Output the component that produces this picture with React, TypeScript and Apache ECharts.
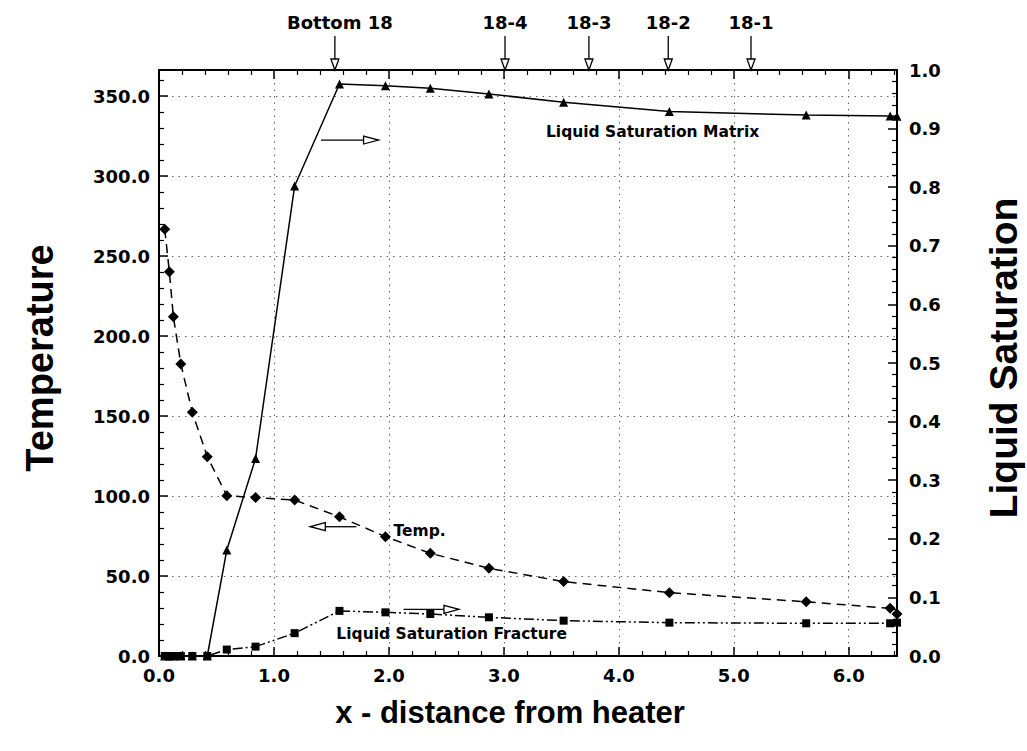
import React, { useEffect, useRef } from 'react';
import * as echarts from 'echarts';

// x - distance from heater
const distance = [0.05, 0.09, 0.125, 0.19, 0.29, 0.42, 0.59, 0.84, 1.18, 1.57, 1.97, 2.36, 2.87, 3.52, 4.44, 5.63, 6.36, 6.42];
// Temperature (left axis)
const temperature = [266.7, 240.2, 212.0, 182.5, 152.3, 124.6, 100.2, 99.0, 97.5, 87.0, 74.6, 64.2, 54.8, 46.5, 39.6, 33.9, 29.8, 26.3];
// Liquid saturation (right axis)
const satMatrix = [0, 0, 0, 0, 0, 0, 0.181, 0.337, 0.802, 0.976, 0.973, 0.969, 0.959, 0.945, 0.929, 0.923, 0.9215, 0.921];
const satFracture = [0, 0, 0, 0, 0, 0, 0.011, 0.016, 0.039, 0.077, 0.0745, 0.0717, 0.066, 0.0603, 0.0569, 0.0558, 0.0558, 0.0569];

// top location markers
const topMarkerLabels = ['Bottom 18', '18-4', '18-3', '18-2', '18-1'];
const topMarkerX = [1.53, 3.01, 3.74, 4.43, 5.15];

const X_MAX = 6.42;
const T_MAX = 366.25;

const FONT = 'DejaVu Sans';

export default function App() {
  const ref = useRef<HTMLDivElement>(null);
  useEffect(() => {
    const chart = echarts.init(ref.current!, null, { renderer: 'svg' });
    const tickStyle = { inside: true, length: 9, lineStyle: { color: '#000', width: 1.5 } };
    const minorStyle = { show: true, length: 5, lineStyle: { color: '#000', width: 1.2 } };
    const axisLine = { show: true, onZero: false, lineStyle: { color: '#000', width: 2 } };
    const gridLine = { show: true, lineStyle: { color: '#666', width: 1, type: [1.5, 5] as any } };
    const labelStyle = { color: '#000', fontFamily: FONT, fontWeight: 'bold' as const, fontSize: 18 };

    const option: any = {
      animation: false,
      backgroundColor: '#fff',
      grid: { left: 159, top: 70, width: 738, height: 586, containLabel: false },
      xAxis: [
        {
          type: 'value', position: 'bottom', min: 0, max: X_MAX, interval: 1,
          axisLine, axisTick: tickStyle, minorTick: { ...minorStyle, splitNumber: 5 },
          splitLine: gridLine,
          axisLabel: {
            ...labelStyle, margin: 10, showMaxLabel: false,
            formatter: (v: number) => (Math.abs(v - Math.round(v)) < 1e-6 ? v.toFixed(1) : ''),
          },
        },
        {
          type: 'value', position: 'top', min: 0, max: X_MAX, interval: 1,
          axisLine, axisTick: tickStyle, minorTick: { ...minorStyle, splitNumber: 5 },
          splitLine: { show: false }, axisLabel: { show: false },
        },
      ],
      yAxis: [
        {
          type: 'value', position: 'left', min: 0, max: T_MAX, interval: 50,
          axisLine, axisTick: tickStyle, minorTick: { ...minorStyle, splitNumber: 5 },
          splitLine: gridLine,
          axisLabel: {
            ...labelStyle, margin: 9, showMaxLabel: false,
            formatter: (v: number) => (Math.abs(v % 50) < 1e-6 ? v.toFixed(1) : ''),
          },
        },
        {
          type: 'value', position: 'right', min: 0, max: 1, interval: 0.1,
          axisLine, axisTick: tickStyle, minorTick: { ...minorStyle, splitNumber: 5 },
          splitLine: { show: false },
          axisLabel: { ...labelStyle, margin: 12, formatter: (v: number) => v.toFixed(1) },
        },
      ],
      series: [
        {
          name: 'Temp.', type: 'line', xAxisIndex: 0, yAxisIndex: 0,
          data: distance.map((x, i) => [x, temperature[i]]),
          symbol: 'diamond', symbolSize: 11,
          itemStyle: { color: '#000' },
          lineStyle: { color: '#000', width: 1.5, type: [9, 6] },
          z: 3,
        },
        {
          name: 'Liquid Saturation Matrix', type: 'line', xAxisIndex: 0, yAxisIndex: 1,
          data: distance.map((x, i) => [x, satMatrix[i]]),
          symbol: 'triangle', symbolSize: 9,
          itemStyle: { color: '#000' },
          lineStyle: { color: '#000', width: 1.5, type: 'solid' },
          z: 3,
        },
        {
          name: 'Liquid Saturation Fracture', type: 'line', xAxisIndex: 0, yAxisIndex: 1,
          data: distance.map((x, i) => [x, satFracture[i]]),
          symbol: 'rect', symbolSize: 8,
          itemStyle: { color: '#000' },
          lineStyle: { color: '#000', width: 1.5, type: [10, 3, 2, 3, 2, 3] },
          z: 3,
        },
      ],
    };
    chart.setOption(option);

    const toPx = (x: number, y: number, yi: number) =>
      chart.convertToPixel({ xAxisIndex: 0, yAxisIndex: yi }, [x, y]) as number[];

    const g: any[] = [];
    const stroke = { stroke: '#000', lineWidth: 1.3 };
    const downArrow = (xp: number, yTop: number, yTip: number) => {
      g.push({ type: 'line', shape: { x1: xp, y1: yTop, x2: xp, y2: yTip - 11 }, style: stroke, z: 10 });
      g.push({
        type: 'polygon',
        shape: { points: [[xp - 4, yTip - 11], [xp + 4, yTip - 11], [xp, yTip]] },
        style: { fill: '#fff', ...stroke }, z: 10,
      });
    };
    const rightArrow = (x1: number, xTip: number, y: number) => {
      g.push({ type: 'line', shape: { x1, y1: y, x2: xTip - 15, y2: y }, style: stroke, z: 10 });
      g.push({
        type: 'polygon',
        shape: { points: [[xTip - 15, y - 4], [xTip - 15, y + 4], [xTip, y]] },
        style: { fill: '#fff', ...stroke }, z: 10,
      });
    };
    const leftArrow = (xTip: number, x2: number, y: number) => {
      g.push({ type: 'line', shape: { x1: xTip + 15, y1: y, x2, y2: y }, style: stroke, z: 10 });
      g.push({
        type: 'polygon',
        shape: { points: [[xTip, y], [xTip + 15, y - 4], [xTip + 15, y + 4]] },
        style: { fill: '#fff', ...stroke }, z: 10,
      });
    };
    const text = (t: string, x: number, y: number, size: number, align: string, opts: any = {}) => {
      g.push({
        type: 'text', x, y, z: 10, ...opts,
        style: {
          text: t, fill: '#000', font: `bold ${size}px "${FONT}"`,
          align, verticalAlign: 'middle',
        },
      });
    };

    // top markers
    const topAxisY = toPx(0, 1, 1)[1];
    topMarkerLabels.forEach((lab, i) => {
      const xp = toPx(topMarkerX[i], 0, 1)[0];
      downArrow(xp, topAxisY - 34, topAxisY);
      text(lab, xp + (i === 0 ? 5 : 0), 22, 18, 'center');
    });

    // in-plot annotations
    const m1 = toPx(1.41, 0.8805, 1);
    const m2 = toPx(1.91, 0.8805, 1);
    rightArrow(m1[0], m2[0], m1[1]);
    const mt = toPx(4.294, 0.8944, 1);
    text('Liquid Saturation Matrix', mt[0], mt[1], 15.5, 'center');

    const t1 = toPx(1.316, 80.8, 0);
    const t2 = toPx(1.717, 80.8, 0);
    leftArrow(t1[0], t2[0], t1[1]);
    const tt = toPx(2.04, 78.1, 0);
    text('Temp.', tt[0], tt[1], 15.5, 'left');

    const f1 = toPx(2.127, 0.0797, 1);
    const f2 = toPx(2.609, 0.0797, 1);
    rightArrow(f1[0], f2[0], f1[1]);
    const ft = toPx(2.546, 0.0375, 1);
    text('Liquid Saturation Fracture', ft[0], ft[1], 15.5, 'center');

    // axis titles
    g.push({
      type: 'text', x: 40, y: 358, rotation: Math.PI / 2, z: 10,
      style: { text: 'Temperature', fill: '#000', font: 'bold 38px "Liberation Sans"', align: 'center', verticalAlign: 'middle' },
    });
    g.push({
      type: 'text', x: 1003, y: 358, rotation: Math.PI / 2, z: 10,
      style: { text: 'Liquid Saturation', fill: '#000', font: 'bold 39px "Liberation Sans"', align: 'center', verticalAlign: 'middle' },
    });
    g.push({
      type: 'text', x: 510, y: 712, z: 10,
      style: { text: 'x - distance from heater', fill: '#000', font: 'bold 31px "Liberation Sans"', align: 'center', verticalAlign: 'middle' },
    });

    chart.setOption({ graphic: g });
    return () => chart.dispose();
  }, []);
  return (
    <div
      ref={ref}
      style={{ position: 'fixed', left: 0, top: 0, width: 1027, height: 751, background: '#fff' }}
    />
  );
}
